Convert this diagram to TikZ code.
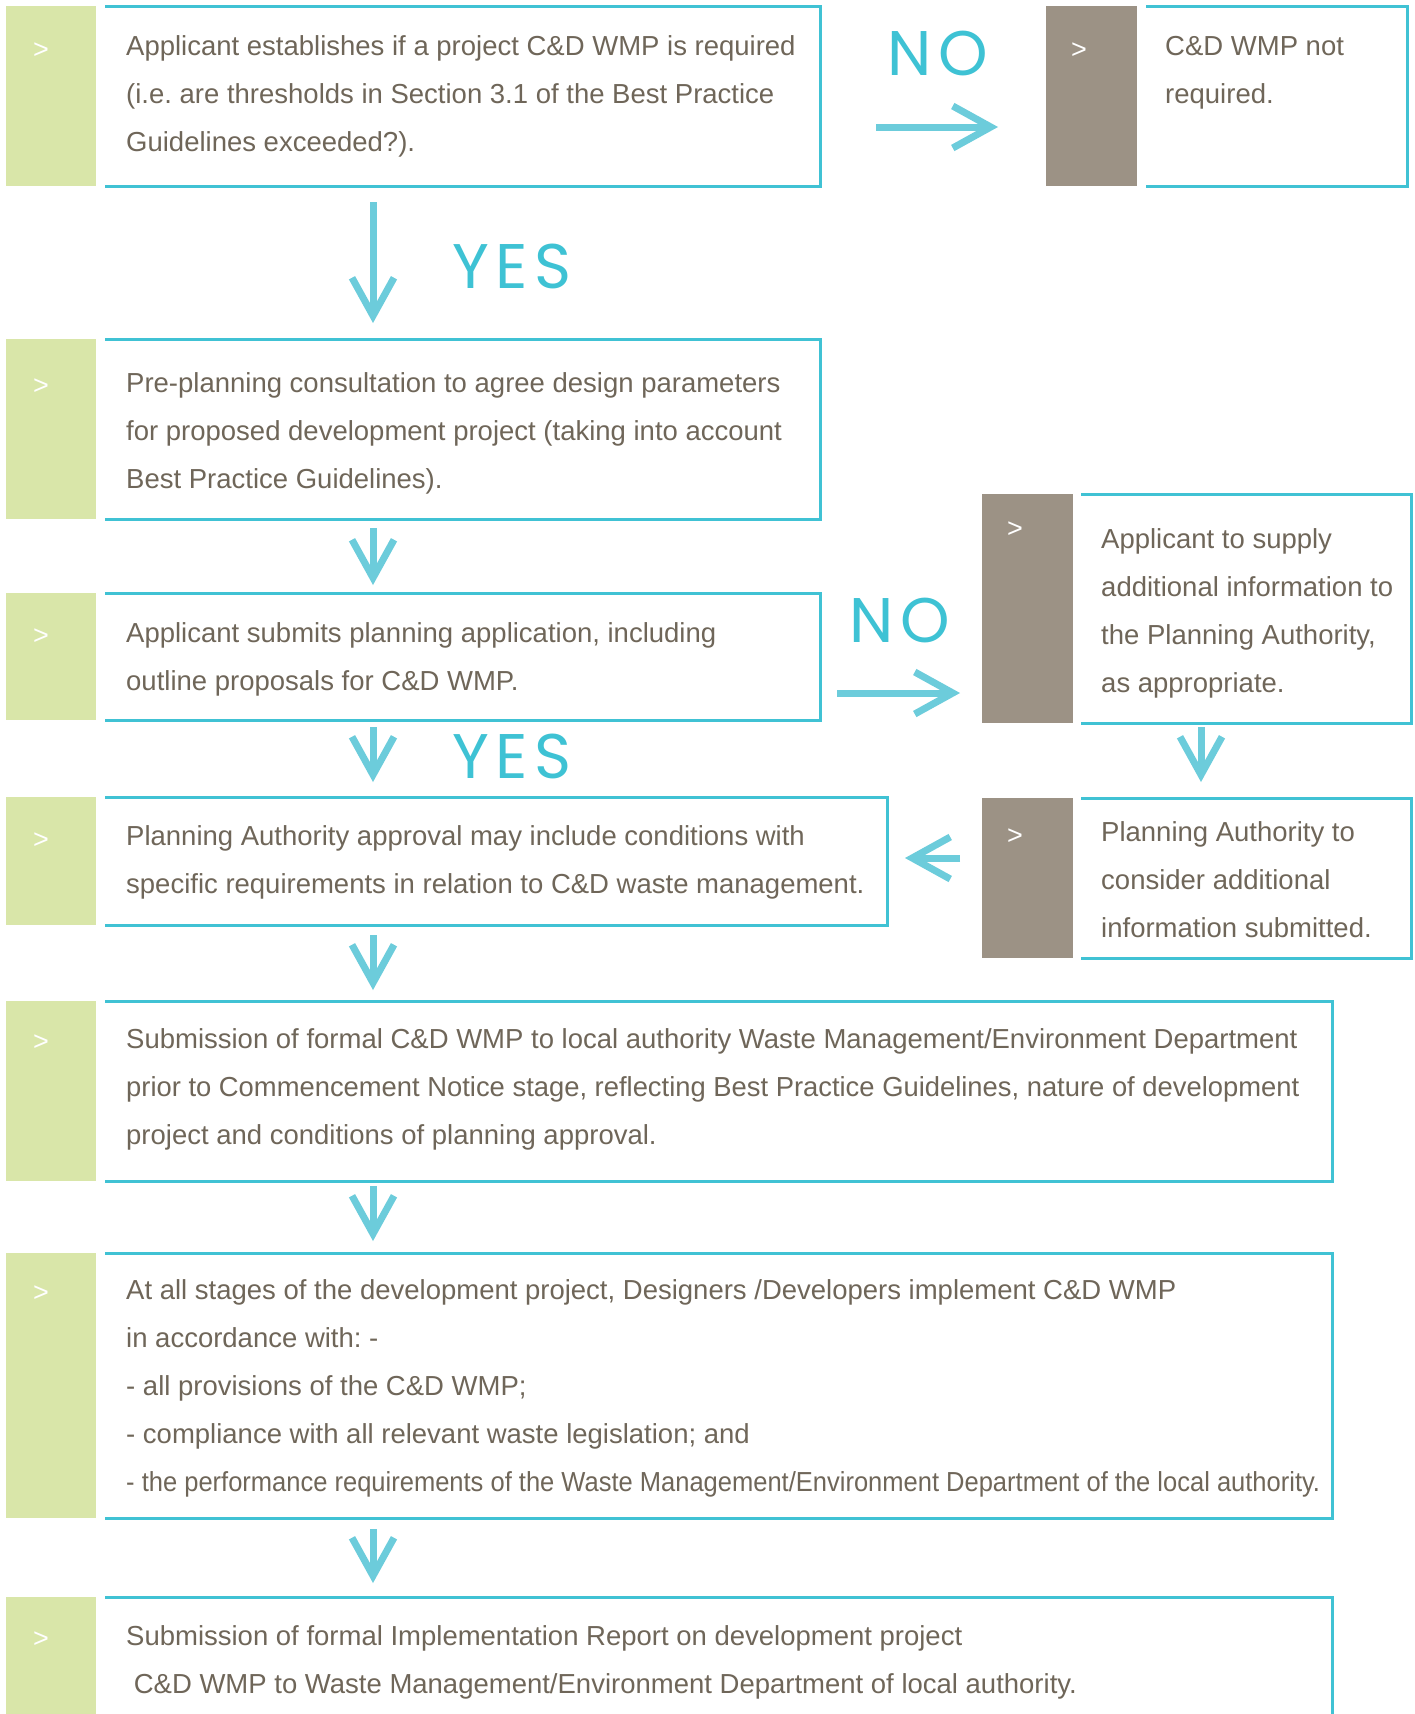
\documentclass[tikz,border=0pt]{standalone}
\usepackage{graphicx}
\usepackage{fontspec}
\setmainfont{Liberation Sans}
\newfontfamily\labfont{Poppins}[LetterSpace=10]
\usetikzlibrary{arrows.meta,calc}
\definecolor{grn}{HTML}{D9E6A9}
\definecolor{gry}{HTML}{9C9285}
\definecolor{cyb}{HTML}{40C2D4}
\definecolor{cya}{HTML}{6CCCDB}
\definecolor{cyt}{HTML}{3EC2D4}
\definecolor{txc}{HTML}{6F6659}
\frenchspacing
\newcommand\mlines[1]{\vtop{\baselineskip=48pt\lineskiplimit=-100pt\halign{##\hfil\cr#1\crcr}}}
\begin{document}
\begin{tikzpicture}[x=1pt,y=-1pt,
  bar/.style={rectangle,inner sep=0pt,outer sep=0pt,anchor=north west},
  gbar/.style={bar,fill=grn},
  rbar/.style={bar,fill=gry},
  boxarea/.style={bar},
  border/.style={draw=cyb,line width=3pt},
  txt/.style={anchor=base west,inner sep=0pt,text=txc,font=\fontsize{27.5}{48}\selectfont},
  mk/.style={anchor=base,inner sep=0pt,text=white,font=\fontsize{27}{27}\selectfont},
  arr/.style={draw=cya,line width=7pt,-{Straight Barb[length=38pt,width=42pt]}},
  lab/.style={inner sep=0pt,text=cyt,font=\labfont\fontsize{63}{63}\selectfont}]
\useasboundingbox (0,0) rectangle (1415,1714);
\fill[white] (0,0) rectangle (1415,1714);

% left column bars and boxes
\node[gbar,minimum width=90pt,minimum height=180pt] (g1) at (6,6) {};
\node[boxarea,minimum width=715pt,minimum height=180pt] (b1) at (105,6) {};
\node[gbar,minimum width=90pt,minimum height=180pt] (g2) at (6,339) {};
\node[boxarea,minimum width=715pt,minimum height=180pt] (b2) at (105,339) {};
\node[gbar,minimum width=90pt,minimum height=127pt] (g3) at (6,593) {};
\node[boxarea,minimum width=715pt,minimum height=127pt] (b3) at (105,593) {};
\node[gbar,minimum width=90pt,minimum height=128pt] (g4) at (6,797) {};
\node[boxarea,minimum width=782pt,minimum height=128pt] (b4) at (105,797) {};
\node[gbar,minimum width=90pt,minimum height=180pt] (g5) at (6,1001) {};
\node[boxarea,minimum width=1227pt,minimum height=180pt] (b5) at (105,1001) {};
\node[gbar,minimum width=90pt,minimum height=265pt] (g6) at (6,1253) {};
\node[boxarea,minimum width=1227pt,minimum height=265pt] (b6) at (105,1253) {};
\node[gbar,minimum width=90pt,minimum height=117pt] (g7) at (6,1597) {};
\node[boxarea,minimum width=1227pt,minimum height=117pt] (b7) at (105,1597) {};

% right column bars and boxes
\node[rbar,minimum width=91pt,minimum height=180pt] (r1) at (1046,6) {};
\node[boxarea,minimum width=261pt,minimum height=180pt] (c1) at (1146,6) {};
\node[rbar,minimum width=91pt,minimum height=229pt] (r2) at (982,494) {};
\node[boxarea,minimum width=330pt,minimum height=229pt] (c2) at (1081,494) {};
\node[rbar,minimum width=91pt,minimum height=160pt] (r3) at (982,798) {};
\node[boxarea,minimum width=330pt,minimum height=160pt] (c3) at (1081,798) {};

% borders (top, right, bottom)
\foreach \b in {b1,b2,b3,b4,b5,b6,c1,c2,c3}
  \draw[border] (\b.north west) -- (\b.north east) -- (\b.south east) -- (\b.south west);
\draw[border] (b7.north west) -- (b7.north east) -- (b7.south east);

% markers
\node[mk] (mr1) at (1079,58) {>};
\node[mk] (mr2) at (1015,537) {>};
\node[mk] (mr3) at (1015,844) {>};
\node[mk] (mg1) at (41,58) {>};
\node[mk] (mg2) at (41,394) {>};
\node[mk] (mg3) at (41,644) {>};
\node[mk] (mg4) at (41,848) {>};
\node[mk] (mg5) at (41,1050) {>};
\node[mk] (mg6) at (41,1301) {>};
\node[mk] (mg7) at (41,1647) {>};

% texts
\node[txt] (t1) at (126,55) {\mlines{Applicant establishes if a project C\&D WMP is required\cr (i.e. are thresholds in Section 3.1 of the Best Practice\cr Guidelines exceeded?).}};
\node[txt] (tc1) at (1165,55) {\mlines{C\&D WMP not\cr required.}};
\node[txt] (t2) at (126,392) {\mlines{Pre-planning consultation to agree design parameters\cr for proposed development project (taking into account\cr Best Practice Guidelines).}};
\node[txt] (t3) at (126,642) {\mlines{Applicant submits planning application, including\cr outline proposals for C\&D WMP.}};
\node[txt] (tc2) at (1101,548) {\mlines{Applicant to supply\cr additional information to\cr the Planning Authority,\cr as appropriate.}};
\node[txt] (t4) at (126,845) {\mlines{Planning Authority approval may include conditions with\cr specific requirements in relation to C\&D waste management.}};
\node[txt] (tc3) at (1101,841) {\mlines{Planning Authority to\cr consider additional\cr information submitted.}};
\node[txt] (t5) at (126,1048) {\mlines{Submission of formal C\&D WMP to local authority Waste Management/Environment Department\cr \resizebox{1173pt}{\height}{prior to Commencement Notice stage, reflecting Best Practice Guidelines, nature of development}\cr project and conditions of planning approval.}};
\node[txt] (t6) at (126,1299) {\mlines{At all stages of the development project, Designers /Developers implement C\&D WMP\cr in accordance with: -\cr - all provisions of the C\&D WMP;\cr - compliance with all relevant waste legislation; and\cr \resizebox{1194pt}{\height}{- the performance requirements of the Waste Management/Environment Department of the local authority.}}};
\node[txt] (t7) at (126,1645) {\mlines{Submission of formal Implementation Report on development project\cr \ C\&D WMP to Waste Management/Environment Department of local authority.}};

% labels
\node[lab] (no1) at (938,54) {NO};
\node[lab] (yes1) at (512,266) {YES};
\node[lab] (no2) at (900,621) {NO};
\node[lab] (yes2) at (512,756) {YES};

% arrows
\draw[arr] ($(b1.south west)+(268,16)$) -- ($(b2.north west)+(268,-16)$);
\draw[arr] ($(b2.south west)+(268,9)$) -- ($(b3.north west)+(268,-8)$);
\draw[arr] ($(b3.south west)+(268,7)$) -- ($(b4.north west)+(268,-15)$);
\draw[arr] ($(b4.south west)+(268,10)$) -- ($(b5.north west)+(268,-11)$);
\draw[arr] ($(b5.south west)+(268,5)$) -- ($(b6.north west)+(268,-12)$);
\draw[arr] ($(b6.south west)+(268,11)$) -- ($(b7.north west)+(268,-14)$);
\draw[arr] ($(c2.south west)+(120,4)$) -- ($(c3.north west)+(120,-16)$);
\draw[arr] ($(b1.north east)+(56,121)$) -- ($(r1.north west)+(-48,121)$);
\draw[arr] ($(b3.north east)+(17,100)$) -- ($(r2.north west)+(-22,199)$);
\draw[arr] ($(r3.north west)+(-22,60)$) -- ($(b4.north east)+(18,61)$);
\end{tikzpicture}
\end{document}
